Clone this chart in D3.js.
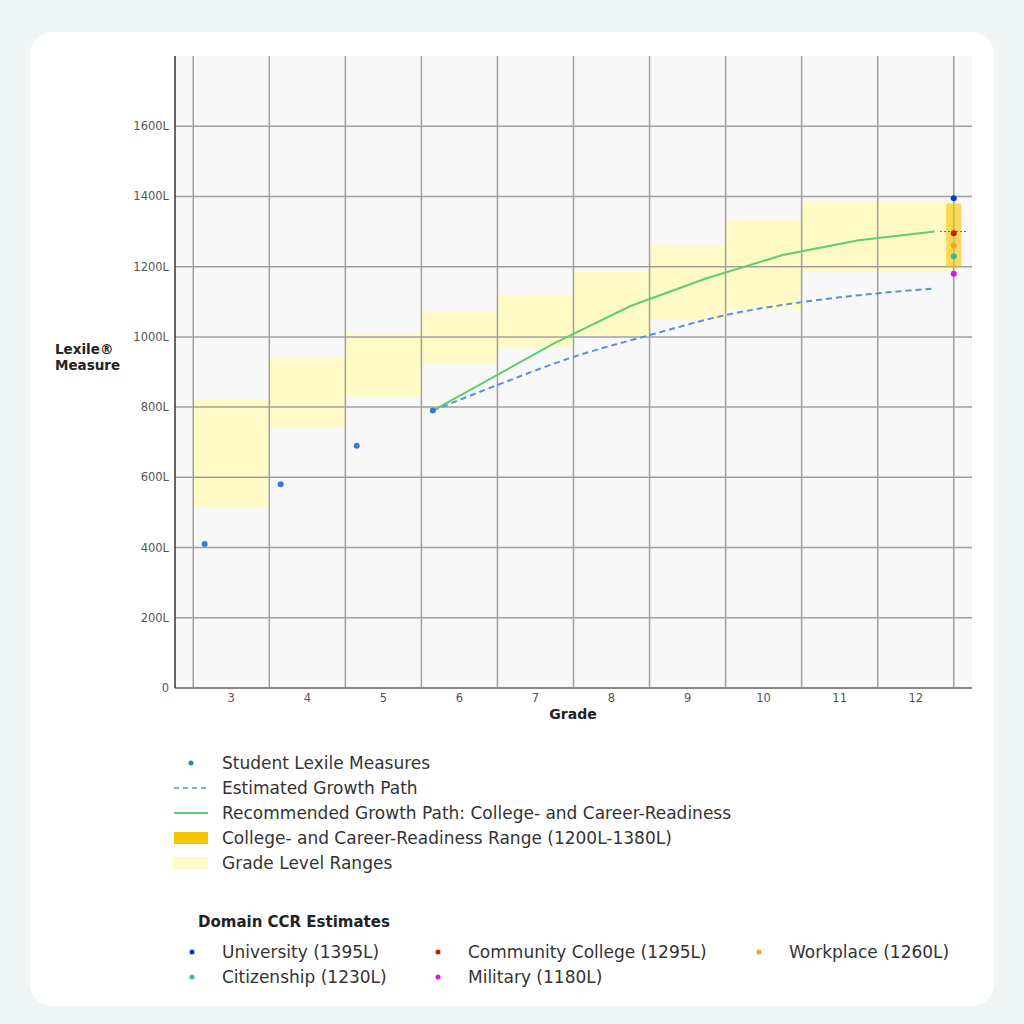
<!DOCTYPE html>
<html>
<head>
<meta charset="utf-8">
<script src="https://cdn.jsdelivr.net/npm/d3@7"></script>
<style>
  body { margin: 0; background: #eef5f4; }
  text { font-family: "DejaVu Sans", sans-serif; }
</style>
</head>
<body>
<script>
const width = 1024
const height = 1024

/* Grade level ranges (Lexile) */
const grades = [3, 4, 5, 6, 7, 8, 9, 10, 11, 12]
const gradeLow = [515, 740, 830, 925, 970, 1005, 1050, 1080, 1185, 1185]
const gradeHigh = [820, 940, 1010, 1070, 1120, 1185, 1260, 1335, 1385, 1385]

/* Student measures */
const studentGrade = [2.65, 3.65, 4.65, 5.65]
const studentLexile = [410, 580, 690, 790]

/* Estimated growth path */
const estGrade = [5.65, 6.5, 7.5, 8.5, 9.5, 10.5, 11.5, 12.25]
const estLexile = [790, 863, 943, 1005, 1062, 1099, 1124, 1138]

/* Recommended growth path */
const recGrade = [5.65, 6.25, 7.25, 8.25, 9.25, 10.25, 11.25, 12.25]
const recLexile = [790, 862, 982, 1088, 1167, 1233, 1275, 1300]

/* CCR range and target */
const ccrRange = [1200, 1380]
const ccrTarget = 1300

/* Domain CCR estimates */
const domainNames = ["University", "Community College", "Workplace", "Citizenship", "Military"]
const domainLexile = [1395, 1295, 1260, 1230, 1180]
const domainColors = ["#0a35c8", "#cc1a00", "#ff9f1a", "#36b5b5", "#e010e6"]

const yTicks = [0, 200, 400, 600, 800, 1000, 1200, 1400, 1600]

const svg = d3.select("body")
  .append("svg")
  .attr("width", width)
  .attr("height", height)

/* Card */
svg.append("rect")
  .attr("x", 30).attr("y", 32)
  .attr("width", 964).attr("height", 974)
  .attr("rx", 22)
  .attr("fill", "#ffffff")

const x = d3.scaleLinear().domain([2.26, 12.74]).range([175, 972])
const y = d3.scaleLinear().domain([0, 1800]).range([688, 56])

/* Plot background */
svg.append("rect")
  .attr("x", x(2.26)).attr("y", y(1800))
  .attr("width", x(12.74) - x(2.26))
  .attr("height", y(0) - y(1800))
  .attr("fill", "#f8f8f8")

/* Grade level ranges */
svg.append("g").selectAll("rect")
  .data(grades)
  .enter()
  .append("rect")
  .attr("x", d => x(d - 0.5))
  .attr("width", d => x(d + 0.5) - x(d - 0.5))
  .attr("y", (d, i) => y(gradeHigh[i]))
  .attr("height", (d, i) => y(gradeLow[i]) - y(gradeHigh[i]))
  .attr("fill", "#fffac6")

/* Grid */
const grid = svg.append("g").attr("stroke", "#a0a0a0").attr("stroke-width", 1.5)
grid.selectAll("line.v")
  .data(grades.concat([13]))
  .enter()
  .append("line")
  .attr("x1", d => x(d - 0.5)).attr("x2", d => x(d - 0.5))
  .attr("y1", y(1800)).attr("y2", y(0))
grid.selectAll("line.h")
  .data(yTicks.slice(1))
  .enter()
  .append("line")
  .attr("x1", x(2.26)).attr("x2", x(12.74))
  .attr("y1", d => y(d)).attr("y2", d => y(d))

/* CCR range bar */
svg.append("rect")
  .attr("x", x(12.4))
  .attr("width", x(12.6) - x(12.4))
  .attr("y", y(ccrRange[1]))
  .attr("height", y(ccrRange[0]) - y(ccrRange[1]))
  .attr("fill", "#f5c400")
  .attr("opacity", 0.6)

/* CCR target dotted line */
svg.append("line")
  .attr("x1", x(12.32)).attr("x2", x(12.68))
  .attr("y1", y(ccrTarget)).attr("y2", y(ccrTarget))
  .attr("stroke", "#666")
  .attr("stroke-width", 1)
  .attr("stroke-dasharray", "2,2")

/* Growth paths */
const estLine = d3.line()
  .x((d, i) => x(estGrade[i]))
  .y(d => y(d))
  .curve(d3.curveMonotoneX)
svg.append("path")
  .attr("d", estLine(estLexile))
  .attr("fill", "none")
  .attr("stroke", "#5b8de0")
  .attr("stroke-width", 2)
  .attr("stroke-dasharray", "6,4")

const recLine = d3.line()
  .x((d, i) => x(recGrade[i]))
  .y(d => y(d))
svg.append("path")
  .attr("d", recLine(recLexile))
  .attr("fill", "none")
  .attr("stroke", "#5ccf6e")
  .attr("stroke-width", 2)

/* Student points */
svg.append("g").selectAll("circle")
  .data(studentLexile)
  .enter()
  .append("circle")
  .attr("cx", (d, i) => x(studentGrade[i]))
  .attr("cy", d => y(d))
  .attr("r", 3)
  .attr("fill", "#3a7ad6")

/* Domain points */
svg.append("g").selectAll("circle")
  .data(domainLexile)
  .enter()
  .append("circle")
  .attr("cx", x(12.5))
  .attr("cy", d => y(d))
  .attr("r", 3)
  .attr("fill", (d, i) => domainColors[i])

/* Axes */
svg.append("line")
  .attr("x1", x(2.26)).attr("x2", x(12.74))
  .attr("y1", y(0)).attr("y2", y(0))
  .attr("stroke", "#888").attr("stroke-width", 2)
svg.append("line")
  .attr("x1", x(2.26)).attr("x2", x(2.26))
  .attr("y1", y(1800)).attr("y2", y(0))
  .attr("stroke", "#333").attr("stroke-width", 1.5)

svg.append("g").selectAll("text")
  .data(yTicks)
  .enter()
  .append("text")
  .attr("x", x(2.26) - 6)
  .attr("y", d => y(d))
  .attr("dy", "0.35em")
  .attr("text-anchor", "end")
  .attr("font-size", 11.5)
  .attr("fill", "#555")
  .text(d => d === 0 ? "0" : d + "L")

svg.append("g").selectAll("text")
  .data(grades)
  .enter()
  .append("text")
  .attr("x", d => x(d))
  .attr("y", y(0) + 14)
  .attr("text-anchor", "middle")
  .attr("font-size", 11.5)
  .attr("fill", "#555")
  .text(d => d)

svg.append("text")
  .attr("x", 573).attr("y", 719)
  .attr("text-anchor", "middle")
  .attr("font-size", 14)
  .attr("font-weight", "bold")
  .attr("fill", "#222")
  .text("Grade")

const yLab = svg.append("text")
  .attr("x", 55).attr("y", 354)
  .attr("font-size", 13.5)
  .attr("font-weight", "bold")
  .attr("fill", "#222")
yLab.append("tspan").attr("x", 55).text("Lexile®")
yLab.append("tspan").attr("x", 55).attr("dy", 16).text("Measure")

/* Legend */
const legend = svg.append("g").attr("font-size", 17).attr("fill", "#333")
const legendLabels = [
  "Student Lexile Measures",
  "Estimated Growth Path",
  "Recommended Growth Path: College- and Career-Readiness",
  "College- and Career-Readiness Range (1200L-1380L)",
  "Grade Level Ranges"
]
const ly = i => 763 + i * 25
legend.append("circle").attr("cx", 191).attr("cy", ly(0)).attr("r", 2.5).attr("fill", "#3a7ad6")
legend.append("line").attr("x1", 174).attr("x2", 208).attr("y1", ly(1)).attr("y2", ly(1))
  .attr("stroke", "#5b8de0").attr("stroke-width", 1.5).attr("stroke-dasharray", "5,4")
legend.append("line").attr("x1", 174).attr("x2", 208).attr("y1", ly(2)).attr("y2", ly(2))
  .attr("stroke", "#5ccf6e").attr("stroke-width", 2)
legend.append("rect").attr("x", 174).attr("y", ly(3) - 6).attr("width", 34).attr("height", 12)
  .attr("fill", "#f5c400")
legend.append("rect").attr("x", 174).attr("y", ly(4) - 6).attr("width", 34).attr("height", 12)
  .attr("fill", "#fffac6")
legend.selectAll("text")
  .data(legendLabels)
  .enter()
  .append("text")
  .attr("x", 222)
  .attr("y", (d, i) => ly(i))
  .attr("dy", "0.35em")
  .text(d => d)

/* Domain legend */
svg.append("text")
  .attr("x", 198).attr("y", 922)
  .attr("dy", "0.35em")
  .attr("font-size", 15)
  .attr("font-weight", "bold")
  .attr("fill", "#222")
  .text("Domain CCR Estimates")

const colX = [192, 438, 759]
const dom = svg.append("g").selectAll("g")
  .data(domainNames)
  .enter()
  .append("g")
  .attr("transform", (d, i) => `translate(${colX[i % 3]},${952 + Math.floor(i / 3) * 25})`)
dom.append("circle")
  .attr("r", 2.5)
  .attr("fill", (d, i) => domainColors[i])
dom.append("text")
  .attr("x", 30)
  .attr("dy", "0.35em")
  .attr("font-size", 17)
  .attr("fill", "#333")
  .text((d, i) => `${d} (${domainLexile[i]}L)`)
</script>
</body>
</html>
